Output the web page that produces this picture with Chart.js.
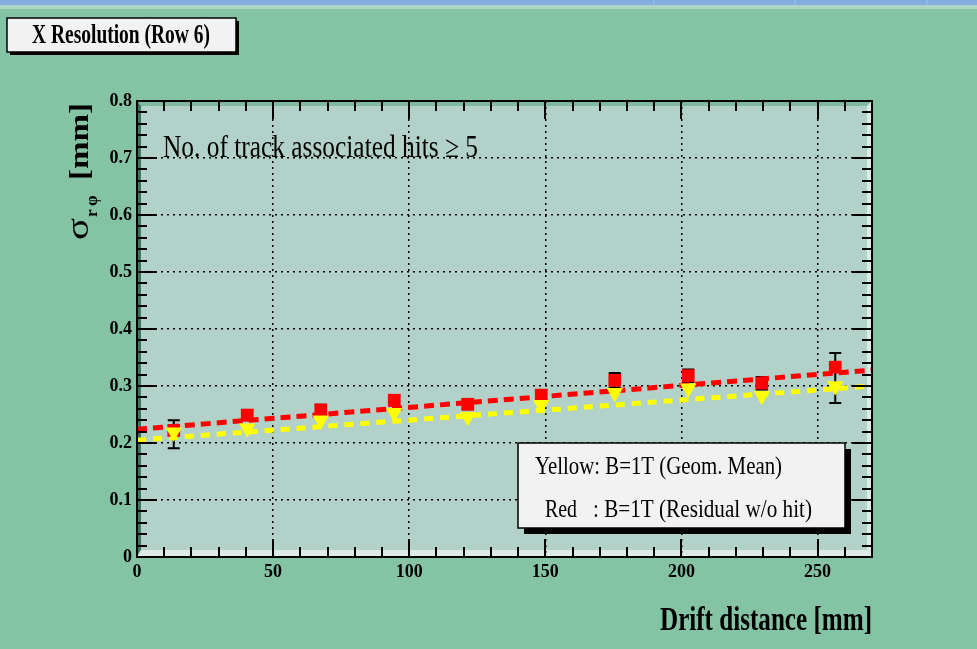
<!DOCTYPE html>
<html><head><meta charset="utf-8">
<script src="https://cdn.jsdelivr.net/npm/chart.js@4/dist/chart.umd.min.js"></script>
<style>html,body{margin:0;padding:0;background:#85C3A5;overflow:hidden}#wrap{position:relative;width:977px;height:649px}</style>
</head><body><div id="wrap"><canvas id="c" width="977" height="649"></canvas></div>
<script>
// ---- data ----
const driftDistance   = [13.5, 40.5, 67.5, 94.5, 121.5, 148.5, 175.5, 202.5, 229.5, 256.5];
const redResidual     = [0.222, 0.249, 0.258, 0.275, 0.268, 0.284, 0.310, 0.318, 0.305, 0.333];
const yellowGeomMean  = [0.219, 0.226, 0.240, 0.253, 0.246, 0.267, 0.288, 0.296, 0.283, 0.300];
const errBarLow       = [0.191, 0.240, 0.249, 0.266, 0.259, 0.275, 0.297, 0.307, 0.294, 0.270];
const errBarHigh      = [0.240, 0.258, 0.267, 0.284, 0.277, 0.293, 0.323, 0.329, 0.316, 0.358];
const redFitX    = [0, 270];
const redFitY    = [0.224, 0.328];
const yellowFitX = [0, 270];
const yellowFitY = [0.205, 0.300];
const xTickValues = [0, 50, 100, 150, 200, 250];
const yTickValues = [0, 0.1, 0.2, 0.3, 0.4, 0.5, 0.6, 0.7, 0.8];
const xRange = [0, 270];
const yRange = [0, 0.8];
const titleText  = 'X Resolution (Row 6)';
const noteText   = 'No. of track associated hits \u2265 5';
const xTitle     = 'Drift distance [mm]';
const legendYellow = 'Yellow: B=1T (Geom. Mean)';
const legendRedA = 'Red';
const legendRedB = ': B=1T (Residual w/o hit)';

const SERIF = '"Liberation Serif", "DejaVu Serif", serif';

function fitText(ctx, text, x, y, font, targetW, align) {
  ctx.save();
  ctx.font = font;
  const w = ctx.measureText(text).width;
  const sx = targetW ? targetW / w : 1;
  ctx.translate(x, y);
  ctx.scale(sx, 1);
  let ox = 0;
  if (align === 'right') ox = -w; else if (align === 'center') ox = -w / 2;
  ctx.textAlign = 'left';
  ctx.textBaseline = 'alphabetic';
  ctx.fillText(text, ox, 0);
  ctx.restore();
}

const decorPlugin = {
  id: 'decor',
  beforeDraw(chart) {
    const ctx = chart.ctx, a = chart.chartArea;
    ctx.save();
    ctx.fillStyle = '#85C3A5';
    ctx.fillRect(0, 0, 977, 649);
    ctx.fillStyle = '#84AEDD';
    ctx.fillRect(0, 0, 977, 5);
    ctx.fillStyle = '#8DBBE8';
    [653, 794, 926].forEach(x => ctx.fillRect(x, 0, 2, 5));
    ctx.fillStyle = '#ACD5C3';
    ctx.fillRect(0, 5, 977, 4);
    // plot area
    ctx.fillStyle = '#B1D1C9';
    ctx.fillRect(a.left, a.top, a.right - a.left, a.bottom - a.top);
    // bevel: top/left dark, right/bottom light
    ctx.fillStyle = '#7FB99E';
    ctx.beginPath();
    ctx.moveTo(a.left, a.top); ctx.lineTo(a.right, a.top);
    ctx.lineTo(a.right - 5, a.top + 5); ctx.lineTo(a.left + 4, a.top + 5); ctx.closePath(); ctx.fill();
    ctx.fillStyle = '#3E7560';
    ctx.beginPath();
    ctx.moveTo(a.left, a.top); ctx.lineTo(a.left + 4, a.top + 5);
    ctx.lineTo(a.left + 4, a.bottom - 7); ctx.lineTo(a.left, a.bottom); ctx.closePath(); ctx.fill();
    ctx.fillStyle = '#DCEBE6';
    ctx.beginPath();
    ctx.moveTo(a.left, a.bottom); ctx.lineTo(a.right, a.bottom);
    ctx.lineTo(a.right - 5, a.bottom - 7); ctx.lineTo(a.left + 4, a.bottom - 7); ctx.closePath(); ctx.fill();
    ctx.beginPath();
    ctx.moveTo(a.right, a.top); ctx.lineTo(a.right, a.bottom);
    ctx.lineTo(a.right - 5, a.bottom - 7); ctx.lineTo(a.right - 5, a.top + 5); ctx.closePath(); ctx.fill();
    ctx.restore();
  },
  beforeDatasetsDraw(chart) {
    const ctx = chart.ctx, xs = chart.scales.x, ys = chart.scales.y;
    ctx.save();
    ctx.strokeStyle = '#000';
    ctx.lineWidth = 2;
    driftDistance.forEach((d, i) => {
      const px = xs.getPixelForValue(d);
      const y1 = ys.getPixelForValue(errBarLow[i]);
      const y2 = ys.getPixelForValue(errBarHigh[i]);
      ctx.beginPath();
      ctx.moveTo(px, y1); ctx.lineTo(px, y2);
      ctx.moveTo(px - 6, y1); ctx.lineTo(px + 6, y1);
      ctx.moveTo(px - 6, y2); ctx.lineTo(px + 6, y2);
      ctx.stroke();
    });
    ctx.restore();
  },
  afterDraw(chart) {
    const ctx = chart.ctx, a = chart.chartArea, xs = chart.scales.x, ys = chart.scales.y;
    ctx.save();
    // frame
    ctx.strokeStyle = '#000';
    ctx.lineWidth = 2;
    ctx.strokeRect(a.left, a.top, a.right - a.left, a.bottom - a.top);
    // inward ticks
    ctx.lineWidth = 2;
    ctx.beginPath();
    for (let k = 0; k <= 40; k++) {
      const v = k * 0.02;
      const py = Math.round(ys.getPixelForValue(v));
      const len = (k % 5 === 0) ? 20 : 10;
      ctx.moveTo(a.left, py); ctx.lineTo(a.left + len, py);
      ctx.moveTo(a.right, py); ctx.lineTo(a.right - len, py);
    }
    for (let v = 0; v <= 270; v += 10) {
      const px = Math.round(xs.getPixelForValue(v));
      const len = (v % 50 === 0) ? 18 : 10;
      ctx.moveTo(px, a.bottom); ctx.lineTo(px, a.bottom - len);
      ctx.moveTo(px, a.top); ctx.lineTo(px, a.top + len);
    }
    ctx.stroke();

    // title box
    ctx.fillStyle = '#000';
    ctx.fillRect(10, 21, 229, 34);
    ctx.fillStyle = '#F2F2F2';
    ctx.fillRect(7, 18, 229, 34);
    ctx.lineWidth = 1.5;
    ctx.strokeRect(7, 18, 229, 34);
    ctx.fillStyle = '#000';
    fitText(ctx, titleText, 32, 43, 'bold 28px ' + SERIF, 178);

    // note
    fitText(ctx, noteText, 163, 157, '31px ' + SERIF, 315);

    // legend box
    ctx.fillStyle = '#000';
    ctx.fillRect(524, 449, 327, 85);
    ctx.fillStyle = '#F2F2F2';
    ctx.fillRect(518, 443, 327, 85);
    ctx.lineWidth = 1.5;
    ctx.strokeRect(518, 443, 327, 85);
    ctx.fillStyle = '#000';
    fitText(ctx, legendYellow, 535, 474, '25px ' + SERIF, 247);
    fitText(ctx, legendRedA, 545, 517, '25px ' + SERIF, 32);
    fitText(ctx, legendRedB, 593, 517, '25px ' + SERIF, 219);

    // x title
    fitText(ctx, xTitle, 872, 630, 'bold 34px ' + SERIF, 212, 'right');

    // y title (rotated)
    ctx.save();
    ctx.translate(88, 240);
    ctx.rotate(-Math.PI / 2);
    fitText(ctx, '\u03C3', 0, 0, '32px ' + SERIF, 22);
    fitText(ctx, 'r', 23, 9, 'bold 17px ' + SERIF, 0);
    fitText(ctx, '\u03C6', 34, 9, 'bold 17px ' + SERIF, 0);
    fitText(ctx, '[mm]', 60, 0, 'bold 28px ' + SERIF, 77);
    ctx.restore();

    ctx.restore();
  }
};

const tickFont = { family: SERIF, size: 18, weight: 'bold' };

new Chart(document.getElementById('c'), {
  type: 'scatter',
  data: {
    datasets: [
      {
        label: 'Yellow: B=1T (Geom. Mean)',
        data: driftDistance.map((x, i) => ({ x, y: yellowGeomMean[i] })),
        pointStyle: 'triangle', rotation: 180, radius: 9.5,
        backgroundColor: '#FFFF00', borderColor: '#FFFF00', borderWidth: 0,
        showLine: false
      },
      {
        label: 'Red : B=1T (Residual w/o hit)',
        data: driftDistance.map((x, i) => ({ x, y: redResidual[i] })),
        pointStyle: 'rect', radius: 9,
        backgroundColor: '#FF0000', borderColor: '#FF0000', borderWidth: 0,
        showLine: false
      },
      {
        type: 'line', label: 'red fit',
        data: redFitX.map((x, i) => ({ x, y: redFitY[i] })),
        borderColor: '#FF0000', borderWidth: 5, borderDash: [10, 6],
        pointRadius: 0, fill: false, borderCapStyle: 'butt'
      },
      {
        type: 'line', label: 'yellow fit',
        data: yellowFitX.map((x, i) => ({ x, y: yellowFitY[i] })),
        borderColor: '#FFFF00', borderWidth: 5, borderDash: [9, 7],
        pointRadius: 0, fill: false, borderCapStyle: 'butt'
      }
    ]
  },
  options: {
    responsive: false,
    animation: false,
    devicePixelRatio: 1,
    layout: { padding: { left: 0, top: 101, right: 105, bottom: 0 } },
    plugins: { legend: { display: false }, tooltip: { enabled: false }, title: { display: false } },
    scales: {
      x: {
        type: 'linear', min: xRange[0], max: xRange[1],
        afterFit(s) { s.height = 92; },
        afterBuildTicks(s) { s.ticks = xTickValues.map(v => ({ value: v })); },
        ticks: { font: tickFont, color: '#000', padding: 5, maxRotation: 0, callback: v => String(v) },
        grid: {
          drawTicks: false, lineWidth: 1.5,
          color: c => (c.tick && (c.tick.value === 0 || c.tick.value === 270)) ? 'rgba(0,0,0,0)' : '#000'
        },
        border: { display: false, dash: [2, 4] }
      },
      y: {
        type: 'linear', min: yRange[0], max: yRange[1],
        afterFit(s) { s.width = 137; },
        afterBuildTicks(s) { s.ticks = yTickValues.map(v => ({ value: v })); },
        ticks: { font: tickFont, color: '#000', padding: 5, callback: v => (v === 0 ? '0' : Number(v).toFixed(1)) },
        grid: {
          drawTicks: false, lineWidth: 1.5,
          color: c => (c.tick && (c.tick.value === 0 || c.tick.value === 0.8)) ? 'rgba(0,0,0,0)' : '#000'
        },
        border: { display: false, dash: [2, 4] }
      }
    }
  },
  plugins: [decorPlugin]
});
</script>
</body></html>
